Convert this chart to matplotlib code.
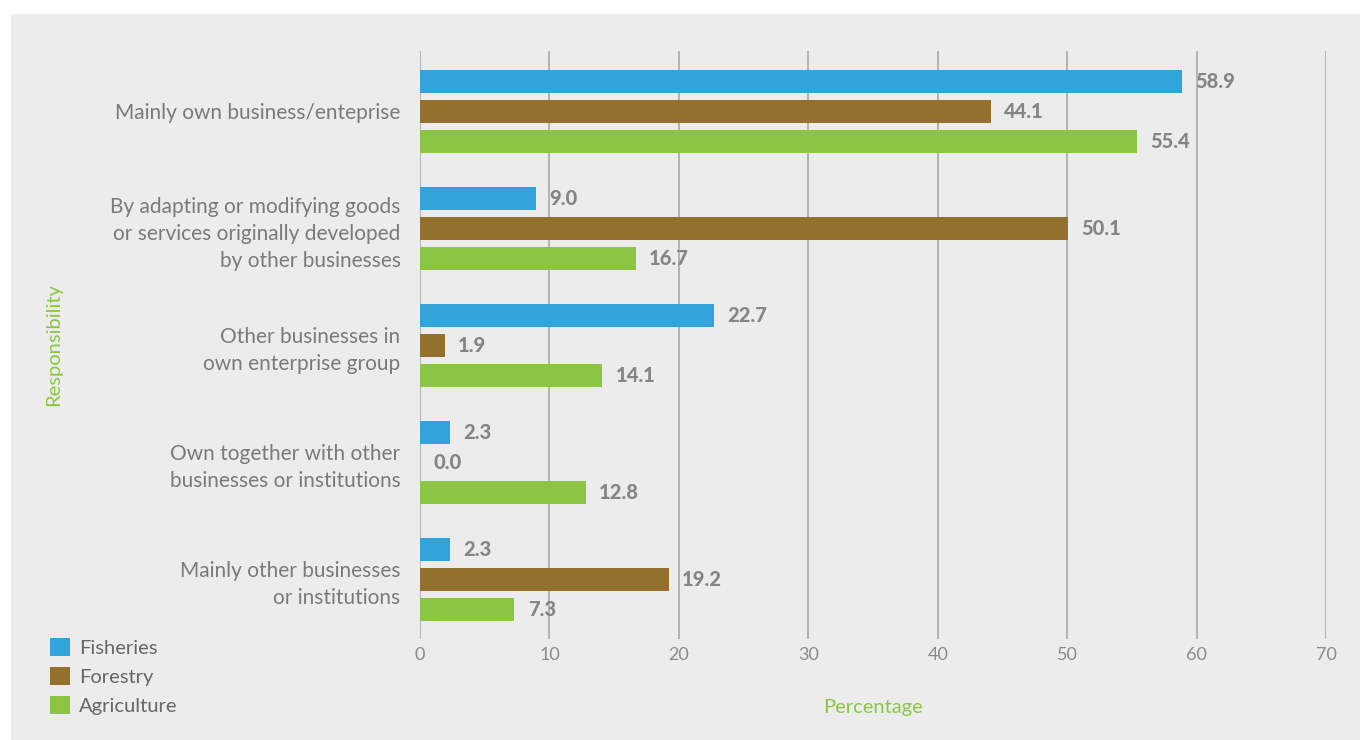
import numpy as np
import matplotlib
matplotlib.use("Agg")
from matplotlib import pyplot as plt
from matplotlib.patches import Rectangle, Patch

plt.rcParams['font.family'] = ['Lato', 'DejaVu Sans']

categories = [
    "Mainly own business/enteprise",
    "By adapting or modifying goods\nor services originally developed\nby other businesses",
    "Other businesses in\nown enterprise group",
    "Own together with other\nbusinesses or institutions",
    "Mainly other businesses\nor institutions",
]
series_names = ["Fisheries", "Forestry", "Agriculture"]
fisheries = [58.9, 9.0, 22.7, 2.3, 2.3]
forestry = [44.1, 50.1, 1.9, 0.0, 19.2]
agriculture = [55.4, 16.7, 14.1, 12.8, 7.3]
x_ticks = [0, 10, 20, 30, 40, 50, 60, 70]

colors = ["#33a3dc", "#93702e", "#8cc543"]
bg = "#ececec"
text_grey = "#7a7a7a"
label_green = "#8cc63f"

fig = plt.figure(figsize=(13.6, 7.4), dpi=100, facecolor="white")
# grey panel behind everything, white strip along top and left
fig.patches.append(Rectangle((11 / 1360, 0), 1, 1 - 14 / 740, transform=fig.transFigure,
                             facecolor=bg, edgecolor="none", zorder=-10))

ax = fig.add_axes([420 / 1360, 1 - 639 / 740, 906 / 1360, 588 / 740])
ax.set_facecolor("none")

y = np.arange(len(categories))
bar_h = 23 / 117
step = 30 / 117
all_series = [fisheries, forestry, agriculture]
for k, vals in enumerate(all_series):
    pos = y + (k - 1) * step
    ax.barh(pos, vals, height=bar_h, color=colors[k], zorder=3, label=series_names[k])
    for p, v in zip(pos, vals):
        ax.annotate("%.1f" % v, xy=(v, p), xytext=(9.5, 0), textcoords="offset points",
                    va="center", ha="left", fontsize=14.5, fontweight="black",
                    color="#858585", zorder=4)

ax.set_xlim(0, 70)
ax.set_ylim(len(categories) - 1 + 0.509, -0.517)
ax.set_xticks(x_ticks)
ax.set_xticklabels([str(t) for t in x_ticks])
ax.set_yticks(y)
ax.set_yticklabels(categories, fontsize=15, color=text_grey, linespacing=1.42)
ax.tick_params(axis="y", length=0, pad=14)
ax.tick_params(axis="x", length=0, pad=6, labelsize=13, labelcolor="#8a8a8a")
ax.grid(axis="x", color="#b3b3b3", linewidth=1.4, zorder=1)
for s in ax.spines.values():
    s.set_visible(False)

fig.text(873 / 1360, 1 - 707 / 740, "Percentage", ha="center", va="center",
         fontsize=14.5, color=label_green)
fig.text(54 / 1360, 1 - 345 / 740, "Responsibility", ha="center", va="center",
         rotation=90, fontsize=14.5, color=label_green)

handles = [Patch(facecolor=c, edgecolor="none") for c in colors]
fig.legend(handles, series_names, loc="upper left", bbox_to_anchor=(42 / 1360, 1 - 630 / 740),
           frameon=False, fontsize=14.5, labelcolor="#666666", handlelength=1.0,
           handleheight=1.0, handletextpad=0.45, labelspacing=0.5, borderaxespad=0)

fig.savefig("out.png", dpi=100, facecolor="white")
